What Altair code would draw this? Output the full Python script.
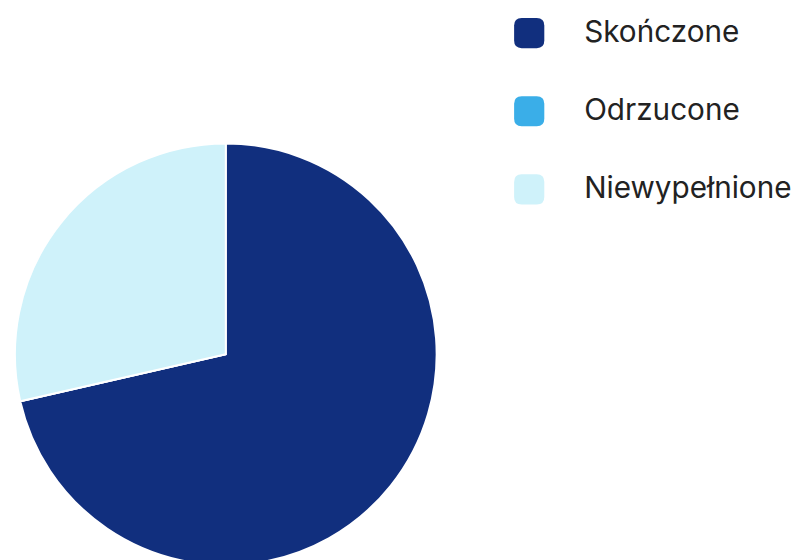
import altair as alt
import pandas as pd

categories = ["Skończone", "Odrzucone", "Niewypełnione"]
values = [5, 0, 2]
colors = ["#112f7e", "#3aaee8", "#cff2fa"]

df = pd.DataFrame({"kategoria": categories, "wartosc": values, "kolejnosc": list(range(len(categories)))})

rounded_square = ("M -0.5 -1 L 0.5 -1 Q 1 -1 1 -0.5 L 1 0.5 Q 1 1 0.5 1 L -0.5 1 "
                  "Q -1 1 -1 0.5 L -1 -0.5 Q -1 -1 -0.5 -1 Z")

chart = alt.Chart(df).mark_arc(radius=213, stroke="white", strokeWidth=2).encode(
    theta=alt.Theta("wartosc:Q", stack=True),
    order=alt.Order("kolejnosc:Q"),
    color=alt.Color(
        "kategoria:N",
        scale=alt.Scale(domain=categories, range=colors),
        sort=categories,
        legend=alt.Legend(
            title=None,
            orient="none",
            legendX=511,
            legendY=7,
            padding=0,
            symbolType=rounded_square,
            symbolSize=930,
            symbolStrokeWidth=0,
            labelFont="Inter",
            labelFontSize=30,
            labelColor="#222222",
            labelOffset=40,
            labelLimit=400,
            rowPadding=48,
        ),
    ),
    x=alt.value(220),
    y=alt.value(347),
).properties(
    width=796, height=552, padding=0, autosize=alt.AutoSizeParams(type="none")
).configure_view(stroke=None)

chart.save("out.html", embed_options={"renderer": "svg", "actions": False})
